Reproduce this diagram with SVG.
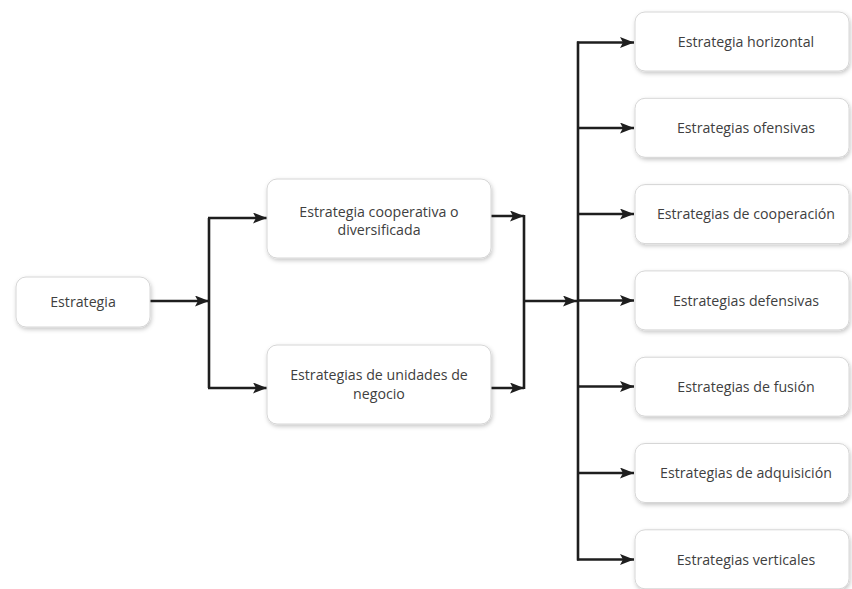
<svg xmlns="http://www.w3.org/2000/svg" width="852" height="589" viewBox="0 0 852 589">
<defs>
<filter id="sh" x="-10%" y="-20%" width="120%" height="150%">
<feDropShadow dx="1" dy="2" stdDeviation="2" flood-color="#000" flood-opacity="0.22"/>
</filter>
<marker id="ah" viewBox="0 0 14 11" refX="14" refY="5.5" markerWidth="14" markerHeight="11" markerUnits="userSpaceOnUse" orient="auto">
<path d="M0,0 L14,5.5 L0,11 L3,5.5 Z" fill="#1e1e1e"/>
</marker>
<style>
.box{fill:#fff;stroke:#d6d6d6;stroke-width:1;filter:url(#sh)}
.t{font-family:"Open Sans","Noto Sans","Liberation Sans",sans-serif;font-size:14.2px;fill:#404040;text-anchor:middle}
.ln{fill:none;stroke:#1e1e1e;stroke-width:2.6}
.ar{fill:none;stroke:#1e1e1e;stroke-width:2.6;marker-end:url(#ah)}
</style>
</defs>
<rect width="852" height="589" fill="#fff"/>
<g id="connectors">
<line class="ar" x1="150" y1="301" x2="209" y2="301"/>
<polyline class="ln" points="209,218 209,388"/>
<line class="ar" x1="208" y1="218" x2="267" y2="218"/>
<line class="ar" x1="208" y1="388" x2="267" y2="388"/>
<line class="ar" x1="491" y1="216" x2="524" y2="216"/>
<line class="ar" x1="491" y1="388" x2="524" y2="388"/>
<polyline class="ln" points="524,215 524,389"/>
<line class="ar" x1="523" y1="301" x2="577" y2="301"/>
<polyline class="ln" points="578,41.5 578,560.5"/>
<line class="ar" x1="577" y1="42.5" x2="634" y2="42.5"/>
<line class="ar" x1="577" y1="128" x2="634" y2="128"/>
<line class="ar" x1="577" y1="214" x2="634" y2="214"/>
<line class="ar" x1="577" y1="300.5" x2="634" y2="300.5"/>
<line class="ar" x1="577" y1="386.5" x2="634" y2="386.5"/>
<line class="ar" x1="577" y1="473" x2="634" y2="473"/>
<line class="ar" x1="577" y1="559.5" x2="634" y2="559.5"/>
</g>
<g id="n-estrategia">
<rect class="box" x="16" y="277" width="134" height="50" rx="10"/>
<text class="t" x="83" y="307">Estrategia</text>
</g>
<g id="n-cooperativa">
<rect class="box" x="267" y="179" width="224" height="79" rx="10"/>
<text class="t" x="379" y="217">Estrategia cooperativa o</text>
<text class="t" x="379" y="235">diversificada</text>
</g>
<g id="n-unidades">
<rect class="box" x="267" y="345" width="224" height="79" rx="10"/>
<text class="t" x="379" y="380">Estrategias de unidades de</text>
<text class="t" x="379" y="399">negocio</text>
</g>
<g id="n-horizontal">
<rect class="box" x="635" y="12" width="214" height="59" rx="10"/>
<text class="t" x="746" y="47">Estrategia horizontal</text>
</g>
<g id="n-ofensivas">
<rect class="box" x="635" y="98.3" width="214" height="59" rx="10"/>
<text class="t" x="746" y="133">Estrategias ofensivas</text>
</g>
<g id="n-cooperacion">
<rect class="box" x="635" y="184.6" width="214" height="59" rx="10"/>
<text class="t" x="746" y="219">Estrategias de cooperación</text>
</g>
<g id="n-defensivas">
<rect class="box" x="635" y="270.9" width="214" height="59" rx="10"/>
<text class="t" x="746" y="305.5">Estrategias defensivas</text>
</g>
<g id="n-fusion">
<rect class="box" x="635" y="357.2" width="214" height="59" rx="10"/>
<text class="t" x="746" y="391.5">Estrategias de fusión</text>
</g>
<g id="n-adquisicion">
<rect class="box" x="635" y="443.5" width="214" height="59" rx="10"/>
<text class="t" x="746" y="478">Estrategias de adquisición</text>
</g>
<g id="n-verticales">
<rect class="box" x="635" y="529.8" width="214" height="59" rx="10"/>
<text class="t" x="746" y="565">Estrategias verticales</text>
</g>
</svg>
